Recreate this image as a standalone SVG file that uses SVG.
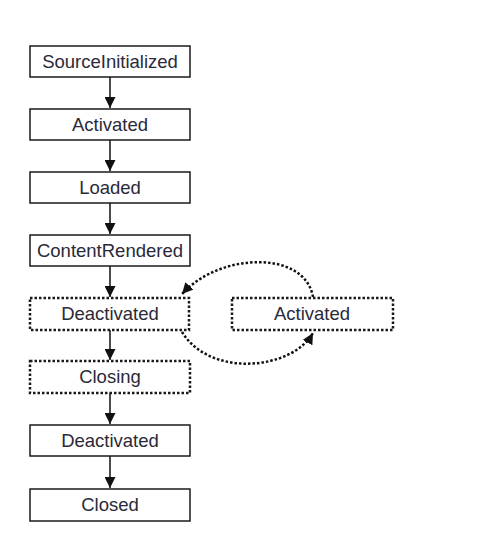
<svg xmlns="http://www.w3.org/2000/svg" width="492" height="550" viewBox="0 0 492 550">
<defs>
<style>
.box{fill:#fff;stroke:#1a1a1a;stroke-width:1.5}
.dot{fill:#fff;stroke:#1a1a1a;stroke-width:2.5;stroke-dasharray:2.5 2}
.lbl{font-family:"Liberation Sans",Arial,sans-serif;font-size:18.5px;fill:#2a2a38;text-anchor:middle}
.arr{stroke:#111;stroke-width:1.5;fill:none}
.darr{stroke:#111;stroke-width:2.5;fill:none;stroke-dasharray:2.5 2}
</style>
<marker id="ah" markerUnits="userSpaceOnUse" markerWidth="11" markerHeight="11" refX="10" refY="5" orient="auto" viewBox="0 0 10 10">
<path d="M0,0 L10,5 L0,10 z" fill="#111"/>
</marker>
</defs>
<rect width="492" height="550" fill="#fff"/>
<g id="connectors">
<line class="arr" x1="110" y1="77" x2="110" y2="108" marker-end="url(#ah)"/>
<line class="arr" x1="110" y1="140" x2="110" y2="171" marker-end="url(#ah)"/>
<line class="arr" x1="110" y1="203" x2="110" y2="234" marker-end="url(#ah)"/>
<line class="arr" x1="110" y1="266" x2="110" y2="297" marker-end="url(#ah)"/>
<line class="arr" x1="110" y1="330" x2="110" y2="360" marker-end="url(#ah)"/>
<line class="arr" x1="110" y1="393" x2="110" y2="424" marker-end="url(#ah)"/>
<line class="arr" x1="110" y1="456" x2="110" y2="488" marker-end="url(#ah)"/>
<path class="darr" d="M313,297 C305,250 220,252 182,294" marker-end="url(#ah)"/>
<path class="darr" d="M182,332 C210,378 292,370 313,333" marker-end="url(#ah)"/>
</g>
<g id="n1"><rect class="box" x="30" y="46" width="160" height="31"/><text class="lbl" x="110" y="68">SourceInitialized</text></g>
<g id="n2"><rect class="box" x="30" y="109" width="160" height="31"/><text class="lbl" x="110" y="131">Activated</text></g>
<g id="n3"><rect class="box" x="30" y="172" width="160" height="31"/><text class="lbl" x="110" y="194">Loaded</text></g>
<g id="n4"><rect class="box" x="30" y="235" width="160" height="31"/><text class="lbl" x="110" y="257">ContentRendered</text></g>
<g id="n5"><rect class="dot" x="30" y="298" width="159" height="32"/><text class="lbl" x="110" y="320">Deactivated</text></g>
<g id="n6"><rect class="dot" x="232" y="298" width="161" height="32"/><text class="lbl" x="312" y="320">Activated</text></g>
<g id="n7"><rect class="dot" x="30" y="361" width="160" height="32"/><text class="lbl" x="110" y="383">Closing</text></g>
<g id="n8"><rect class="box" x="30" y="425" width="160" height="31"/><text class="lbl" x="110" y="447">Deactivated</text></g>
<g id="n9"><rect class="box" x="30" y="489" width="160" height="32"/><text class="lbl" x="110" y="511">Closed</text></g>
</svg>
